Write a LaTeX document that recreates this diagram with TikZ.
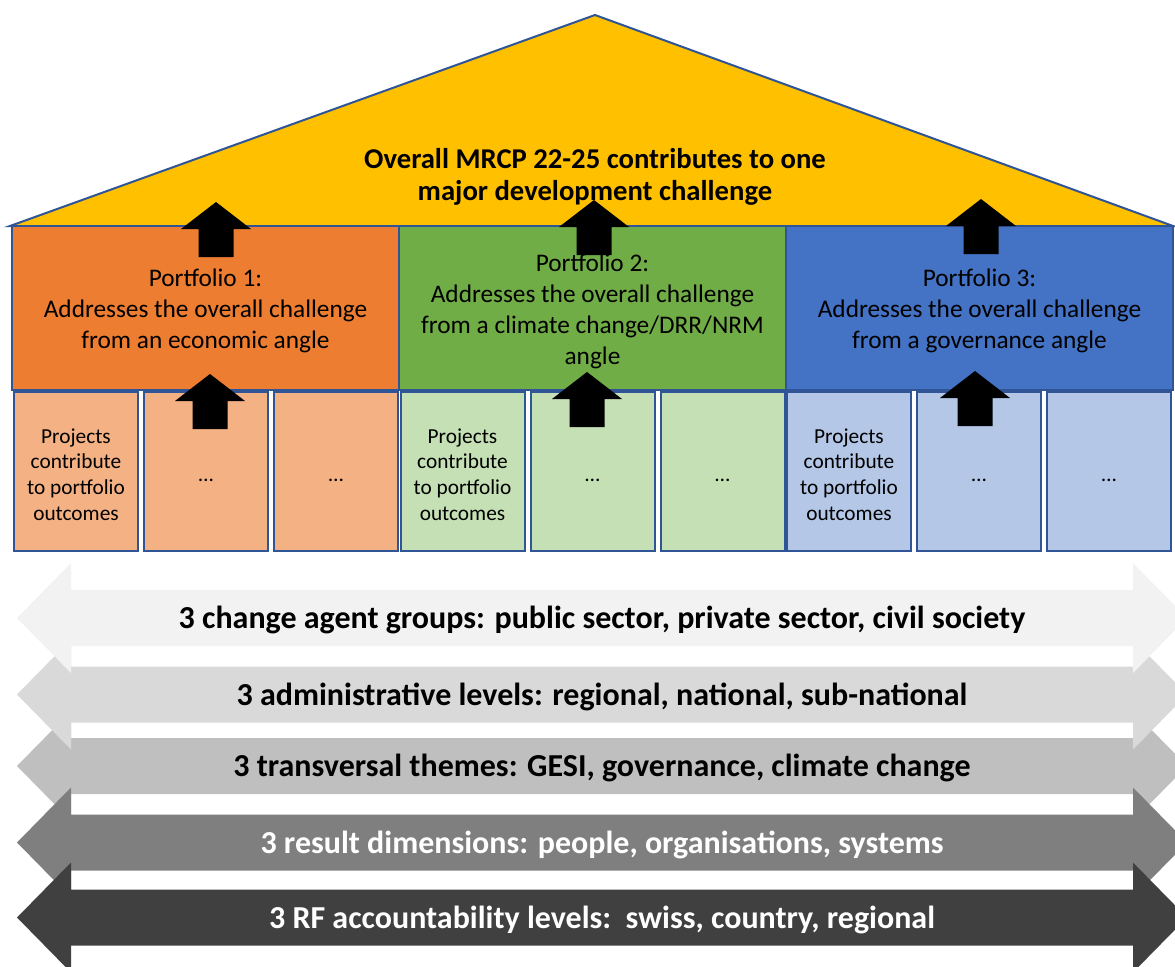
\documentclass[tikz,border=0pt]{standalone}
\usepackage{fontspec}
\setmainfont{Carlito}
\definecolor{roofgold}{HTML}{FFC000}
\definecolor{edgeblue}{HTML}{2F5597}
\definecolor{pforange}{HTML}{ED7D31}
\definecolor{pfgreen}{HTML}{70AD47}
\definecolor{pfblue}{HTML}{4472C4}
\definecolor{prorange}{HTML}{F4B183}
\definecolor{prgreen}{HTML}{C5E0B4}
\definecolor{prblue}{HTML}{B4C7E7}
\definecolor{bandA}{HTML}{F2F2F2}
\definecolor{bandB}{HTML}{D9D9D9}
\definecolor{bandC}{HTML}{BFBFBF}
\definecolor{bandD}{HTML}{7F7F7F}
\definecolor{bandE}{HTML}{404040}
\tikzset{uparr/.pic={\fill[black] (-17.5,0) -- (-17.5,-28) -- (-35,-28) -- (0,-55) -- (35,-28) -- (17.5,-28) -- (17.5,0) -- cycle;}}
\begin{document}
\begin{tikzpicture}[
  x=0.75pt,y=-0.75pt,
  roof/.style={fill=roofgold,draw=edgeblue,line width=1.5pt,line join=miter},
  goaltext/.style={font=\bfseries\fontsize{21.5}{24}\selectfont,align=center},
  pfbox/.style={draw=edgeblue,line width=1.5pt,minimum width=290pt,minimum height=123pt,inner sep=0pt},
  pftext/.style={align=center,font=\fontsize{19}{23.25}\selectfont},
  prbox/.style={draw=edgeblue,line width=1.5pt,minimum width=93pt,minimum height=119.5pt,inner sep=0pt},
  prtext/.style={align=center,font=\fontsize{16}{19.2}\selectfont},
  lab/.style={font=\bfseries\fontsize{24}{28}\selectfont}
]
\useasboundingbox (0,0) rectangle (1175,967);

% roof
\draw[roof] (10,226) -- (595,15) -- (1173,226) -- cycle;
\node[goaltext] (goal) at (595,177) {Overall MRCP 22-25 contributes to one\\major development challenge};

% portfolios
\node[pfbox,fill=pforange] (pf1) at (205.5,308) {};
\node[pfbox,fill=pfgreen] (pf2) at (592.5,308) {};
\node[pfbox,fill=pfblue] (pf3) at (979.5,308) {};
\node[pftext] (pf1t) at (205.5,311) {Portfolio 1:\\Addresses the overall challenge\\from an economic angle};
\node[pftext] (pf2t) at (592.5,311) {Portfolio 2:\\Addresses the overall challenge\\from a climate change/DRR/NRM\\angle};
\node[pftext] (pf3t) at (979.5,311) {Portfolio 3:\\Addresses the overall challenge\\from a governance angle};

% projects
\foreach \p/\c/\xa in {1/prorange/76,2/prgreen/462.5,3/prblue/849}{
  \node[prbox,fill=\c] (pr\p a) at (\xa,471.5) {};
  \node[prbox,fill=\c] (pr\p b) at (\xa+130,471.5) {};
  \node[prbox,fill=\c] (pr\p c) at (\xa+260,471.5) {};
  \node[prtext] (pr\p at) at (\xa,474.5) {Projects\\contribute\\to portfolio\\outcomes};
  \node[prtext] (pr\p bt) at (\xa+130,480) {\ldots};
  \node[prtext] (pr\p ct) at (\xa+260,480) {\ldots};
}

% arrows up
\pic at (216,257) {uparr};
\pic at (594,255) {uparr};
\pic at (981,254) {uparr};
\pic at (210,429) {uparr};
\pic at (587,427) {uparr};
\pic at (975,426) {uparr};

% bands
\foreach \i/\y/\c/\t/\s in {
  3/766/bandC/black/{3 transversal themes: GESI, governance, climate change},
  2/694.5/bandB/black/{3 administrative levels: regional, national, sub-national},
  1/618/bandA/black/{3 change agent groups: public sector, private sector, civil society},
  4/842.5/bandD/white/{3 result dimensions: people, organisations, systems},
  5/917.5/bandE/white/{3 RF accountability levels:\ \ swiss, country, regional}}{
  \fill[\c] (17,\y) -- (71,\y-55) -- (71,\y-28) -- (1133,\y-28) -- (1133,\y-55) -- (1187,\y)
    -- (1133,\y+55) -- (1133,\y+28) -- (71,\y+28) -- (71,\y+55) -- cycle;
  \node[lab,text=\t] (bd\i) at (602,\y+2) {\s};
}

\end{tikzpicture}
\end{document}
